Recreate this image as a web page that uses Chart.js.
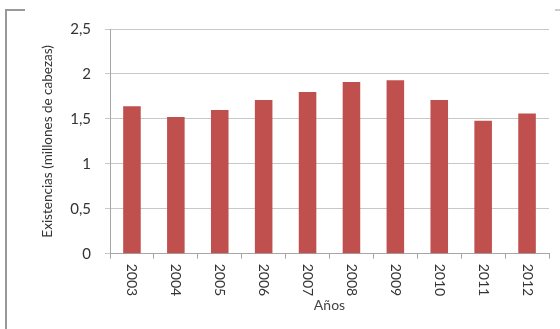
<!DOCTYPE html>
<html>
<head>
<meta charset="utf-8">
<script src="https://cdn.jsdelivr.net/npm/chart.js@4"></script>
<style>
  html, body { margin: 0; padding: 0; background: #fff; }
  #wrap { width: 560px; height: 329px; position: relative; }
</style>
</head>
<body>
<div id="wrap"><canvas id="barChart" width="560" height="329"></canvas></div>
<script>
const CHART = document.getElementById("barChart");

const years = ['2003', '2004', '2005', '2006', '2007', '2008', '2009', '2010', '2011', '2012'];
const existencias = [1.64, 1.52, 1.60, 1.71, 1.80, 1.91, 1.93, 1.71, 1.48, 1.56];
const yTicks = [0, 0.5, 1, 1.5, 2, 2.5];

const FONT = "Lato, 'Open Sans', sans-serif";

// x labels read top-to-bottom (clockwise), so they are drawn here
const downLabels = {
    id: 'downLabels',
    afterDraw(chart) {
        const ctx = chart.ctx;
        const x = chart.scales.x;
        ctx.save();
        ctx.font = "14px " + FONT;
        ctx.fillStyle = "#333";
        ctx.textAlign = "left";
        ctx.textBaseline = "middle";
        x.ticks.forEach((t, i) => {
            const px = x.getPixelForTick(i);
            ctx.save();
            ctx.translate(px, x.top + 10);
            ctx.rotate(Math.PI / 2);
            ctx.fillText(years[i], 0, 0);
            ctx.restore();
        });
        // frame left over from the source picture
        ctx.strokeStyle = "#999";
        ctx.lineWidth = 2;
        ctx.beginPath();
        ctx.moveTo(6, 329);
        ctx.lineTo(6, 10);
        ctx.lineTo(25, 10);
        ctx.stroke();
        ctx.lineWidth = 1;
        ctx.beginPath();
        ctx.moveTo(555, 10);
        ctx.lineTo(560, 10);
        ctx.stroke();
        ctx.restore();
    }
};

let barChart = new Chart(CHART, {
    type: 'bar',
    data: {
        labels: years,
        datasets: [{
            label: "Existencias",
            data: existencias,
            backgroundColor: "#C0504D",
            borderWidth: 0,
            barPercentage: 0.4,
            categoryPercentage: 1.0
        }]
    },
    options: {
        responsive: false,
        animation: false,
        layout: { padding: { left: 40, right: 11, top: 29, bottom: 15 } },
        plugins: { legend: { display: false }, tooltip: { enabled: false } },
        scales: {
            x: {
                grid: { display: true, drawOnChartArea: false, drawTicks: true, tickLength: 5, color: "#a6a6a6", offset: true },
                border: { color: "#a6a6a6" },
                ticks: { minRotation: 90, maxRotation: 90, color: "rgba(0,0,0,0)", font: { size: 14, family: FONT }, padding: 3 },
                title: { display: true, text: "Años", color: "#444", font: { size: 14, family: FONT }, padding: { top: 0, bottom: 0 } }
            },
            y: {
                min: 0,
                max: 2.5,
                afterBuildTicks: (s) => { s.ticks = yTicks.map(v => ({ value: v })); },
                grid: { color: "#c8c8c8", tickLength: 5 },
                border: { color: "#a6a6a6" },
                ticks: {
                    color: "#333",
                    font: { size: 15, family: FONT },
                    padding: 14,
                    callback: (v) => String(v).replace('.', ',')
                },
                title: { display: true, text: "Existencias (millones de cabezas)", color: "#333", font: { size: 13.5, family: FONT }, padding: { top: 0, bottom: 0 } }
            }
        }
    },
    plugins: [downLabels]
});
</script>
</body>
</html>
